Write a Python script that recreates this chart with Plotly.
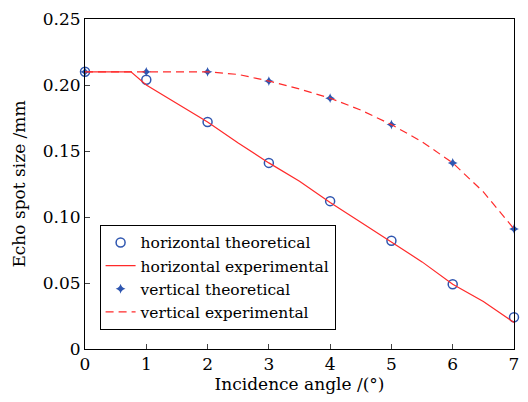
import plotly.graph_objects as go

ht_x = [0, 1, 2, 3, 4, 5, 6, 7]
ht_y = [0.210, 0.204, 0.172, 0.141, 0.112, 0.082, 0.049, 0.024]

he_x = [0, 0.75, 1, 1.5, 2, 2.5, 3, 3.5, 4, 4.5, 5, 5.5, 6, 6.5, 7]
he_y = [0.210, 0.210, 0.200, 0.186, 0.172, 0.156, 0.141, 0.127, 0.111, 0.096, 0.081, 0.066, 0.049, 0.036, 0.020]

vt_x = [0, 1, 2, 3, 4, 5, 6, 7]
vt_y = [0.210, 0.210, 0.210, 0.203, 0.190, 0.170, 0.141, 0.091]

ve_x = [0, 1, 2, 2.5, 3, 3.5, 4, 4.5, 5, 5.5, 6, 6.5, 7]
ve_y = [0.210, 0.210, 0.210, 0.208, 0.203, 0.197, 0.190, 0.181, 0.170, 0.157, 0.141, 0.119, 0.091]

x_ticks = [0, 1, 2, 3, 4, 5, 6, 7]
y_ticks = [0, 0.05, 0.10, 0.15, 0.20, 0.25]
y_ticklabels = ["0", "0.05", "0.10", "0.15", "0.20", "0.25"]

blue = "#2f56b0"
red = "#ff2a2a"
font = "DejaVu Serif"

fig = go.Figure()
fig.add_trace(go.Scatter(x=ht_x, y=ht_y, mode="markers", name="horizontal theoretical",
                         marker=dict(symbol="circle-open", size=9, color=blue, line=dict(width=1.5)),
                         cliponaxis=False))
fig.add_trace(go.Scatter(x=he_x, y=he_y, mode="lines", name="horizontal experimental",
                         line=dict(color=red, width=1.2)))
fig.add_trace(go.Scatter(x=vt_x, y=vt_y, mode="markers", name="vertical theoretical",
                         marker=dict(symbol="star-diamond", size=7, color=blue),
                         cliponaxis=False))
fig.add_trace(go.Scatter(x=ve_x, y=ve_y, mode="lines", name="vertical experimental",
                         line=dict(color=red, width=1.2, dash="8px,5px")))

fig.update_layout(
    width=512, height=386,
    margin=dict(l=77, r=6, t=11, b=45, autoexpand=False),
    paper_bgcolor="white", plot_bgcolor="white",
    font=dict(family=font, size=16, color="black"),
    showlegend=True,
    legend=dict(x=0.034, y=0.058, xanchor="left", yanchor="bottom",
                bordercolor="black", borderwidth=1, bgcolor="white",
                font=dict(family=font, size=15.5), tracegroupgap=0,
                itemsizing="trace", itemwidth=30),
    xaxis=dict(range=[0, 7], tickvals=x_ticks, ticks="inside", ticklen=5,
               showline=True, linecolor="black", linewidth=1, mirror=True,
               showgrid=False, zeroline=False, automargin=False,
               title=dict(text="Incidence angle /(°)", standoff=4, font=dict(size=17)),
               tickfont=dict(size=17)),
    yaxis=dict(range=[0, 0.25], tickvals=y_ticks, ticktext=y_ticklabels,
               ticks="inside", ticklen=5,
               showline=True, linecolor="black", linewidth=1, mirror=True,
               showgrid=False, zeroline=False, automargin=False,
               title=dict(text="Echo spot size /mm", standoff=12, font=dict(size=17)),
               tickfont=dict(size=17)),
)

fig.write_html("out.html")
